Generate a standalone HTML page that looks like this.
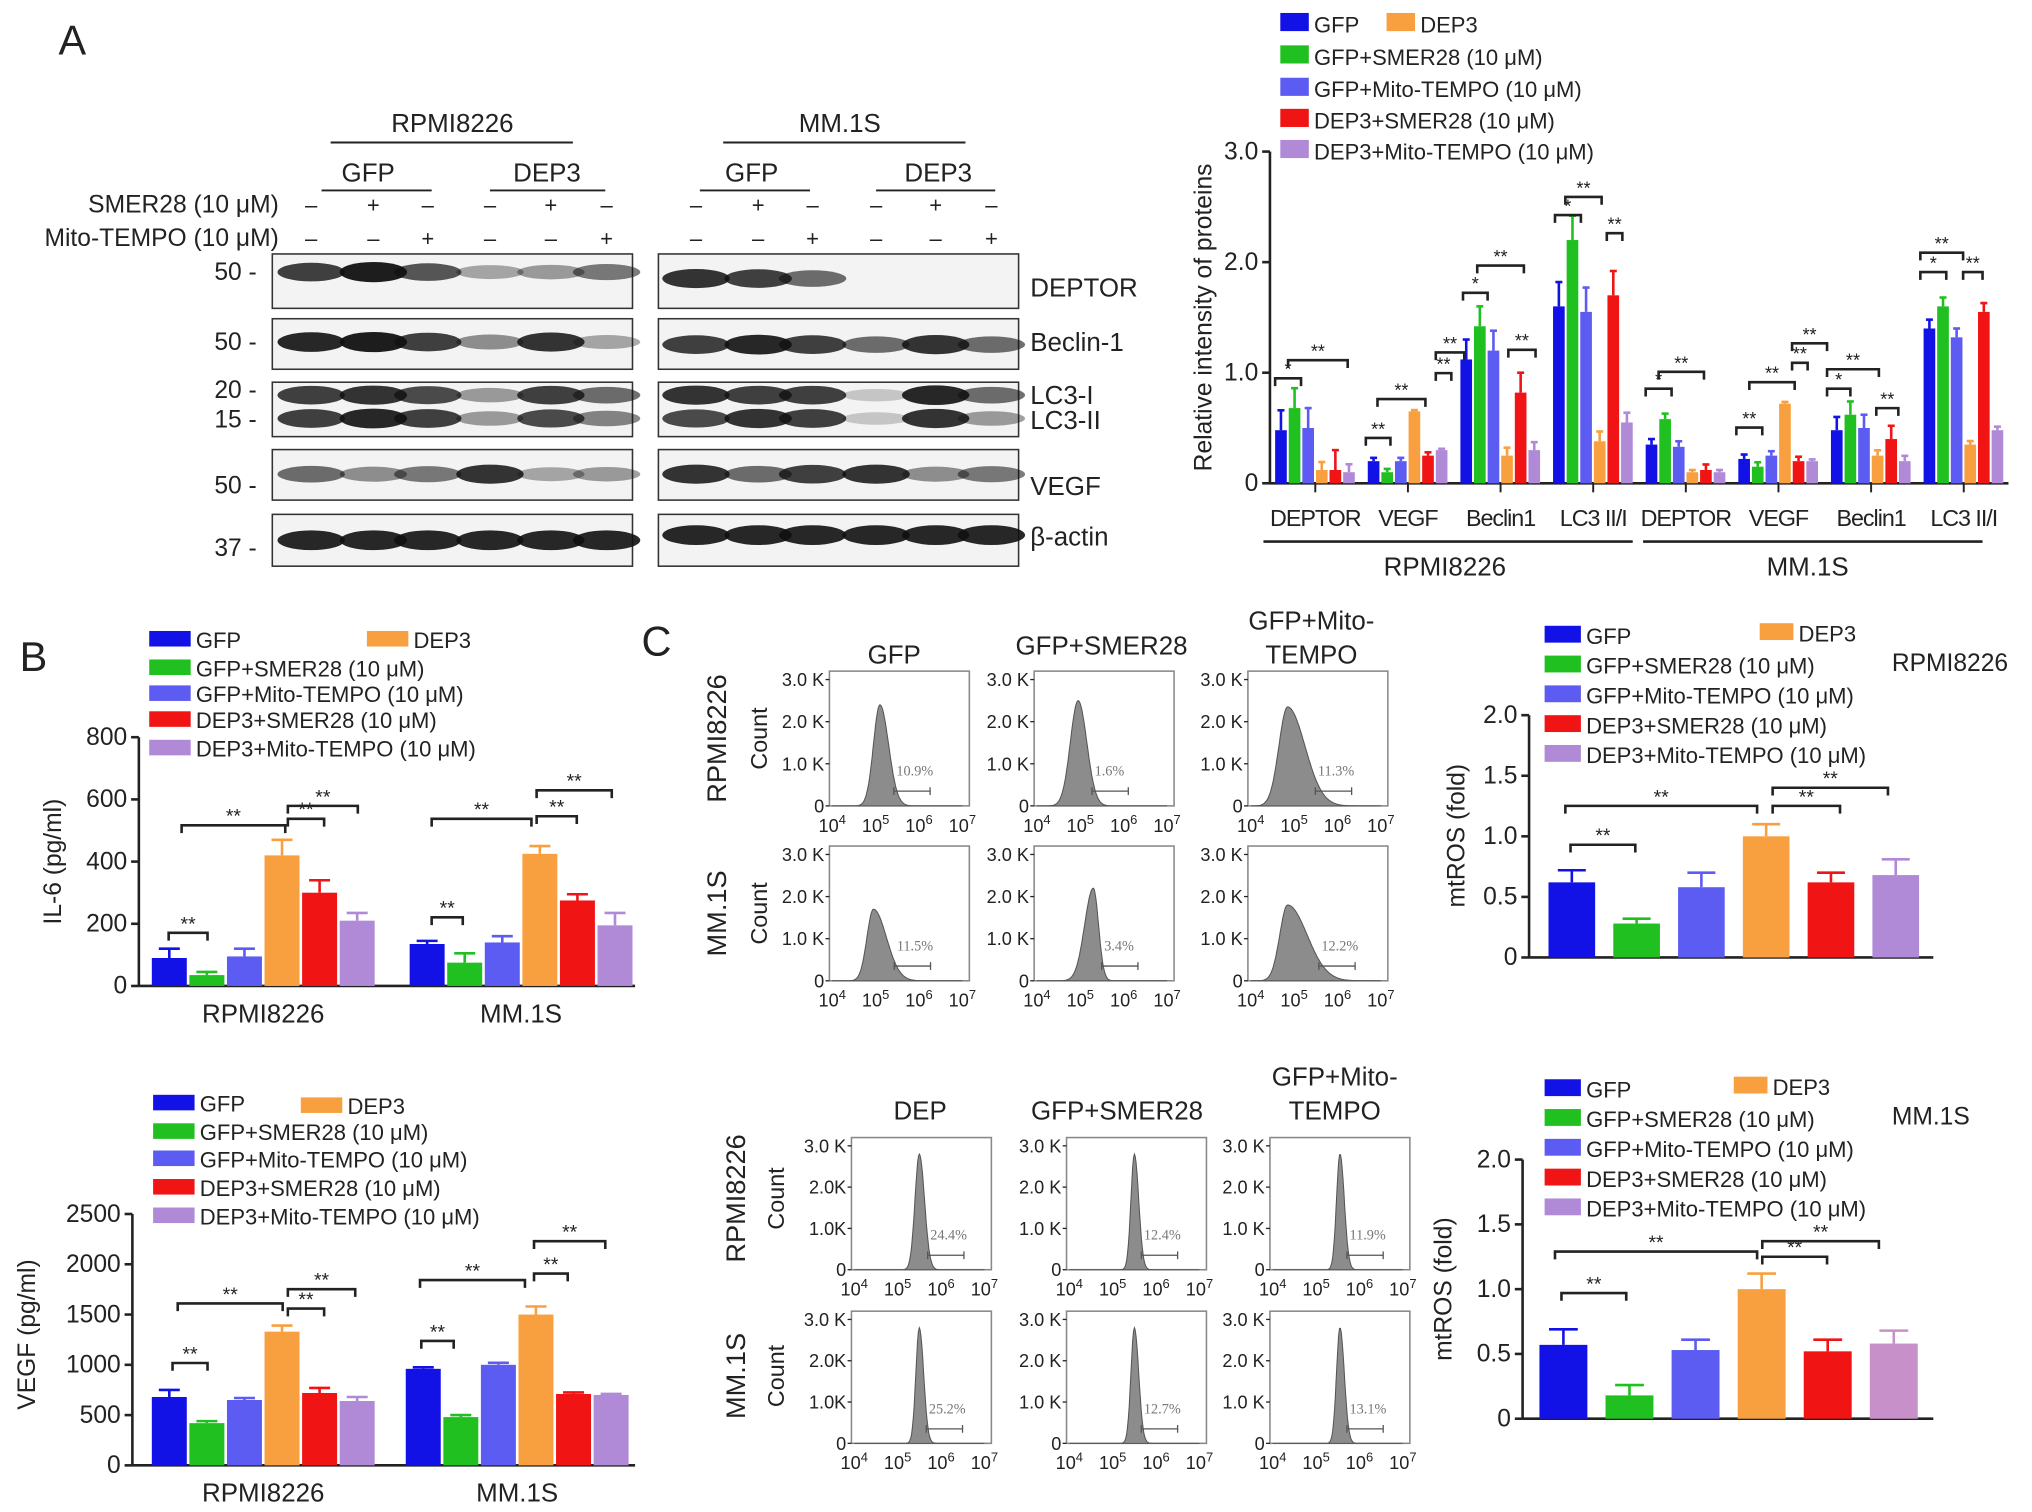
<!DOCTYPE html>
<html><head><meta charset="utf-8"><style>
html,body{margin:0;padding:0;background:#fff;}
svg{display:block;font-family:"Liberation Sans",sans-serif;}
</style></head><body>
<svg id="s" width="2032" height="1512" viewBox="0 0 1568 1167" xmlns="http://www.w3.org/2000/svg">
<rect width="1568" height="1167" fill="#fff"/>
</svg>
<script>
const COLORS=['#1212e6','#20c020','#5c5cf2','#f8a040','#f01414','#b08ad6'];
const LEG=['GFP','GFP+SMER28 (10 μM)','GFP+Mito-TEMPO (10 μM)','DEP3','DEP3+SMER28 (10 μM)','DEP3+Mito-TEMPO (10 μM)'];
// Chart A data
const catsA=['DEPTOR','VEGF','Beclin1','LC3 II/I','DEPTOR','VEGF','Beclin1','LC3 II/I'];
const gfpA=[0.48,0.2,1.12,1.6,0.35,0.22,0.48,1.4];
const smerA=[0.68,0.1,1.42,2.2,0.58,0.15,0.62,1.6];
const mitoA=[0.5,0.2,1.2,1.55,0.33,0.25,0.5,1.32];
const dep3A=[0.12,0.65,0.25,0.38,0.1,0.72,0.25,0.35];
const depSmerA=[0.12,0.25,0.82,1.7,0.12,0.2,0.4,1.55];
const depMitoA=[0.1,0.3,0.3,0.55,0.1,0.2,0.2,0.48];
const errA=[0.18,0.03,0.18,0.22,0.05,0.04,0.12,0.08];
const ticksA=[0,1.0,2.0,3.0];
// IL-6
const cellCats=['RPMI8226','MM.1S'];
const il6=[[90,35,95,420,300,210],[135,75,140,425,275,195]];
const il6Err=[[30,10,25,50,40,25],[10,30,20,25,20,40]];
const il6Ticks=[0,200,400,600,800];
// VEGF
const vegf=[[680,420,650,1330,720,640],[960,480,1000,1500,710,700]];
const vegfErr=[[70,20,20,60,50,40],[15,20,20,80,15,10]];
const vegfTicks=[0,500,1000,1500,2000,2500];
// mtROS
const rosR=[0.62,0.28,0.58,1.0,0.62,0.68];
const rosRErr=[0.1,0.04,0.12,0.1,0.08,0.13];
const rosM=[0.57,0.18,0.53,1.0,0.52,0.58];
const rosMErr=[0.12,0.08,0.08,0.12,0.09,0.1];
const rosTicks=[0,0.5,1.0,1.5,2.0];
// flow histograms: peak (log10), left width, right width, height(K), gate %
const flowPeak=[5.1,4.95,4.85,4.95,5.3,4.85, 5.5,5.5,5.55,5.5,5.5,5.55];
const flowLW=[0.15,0.18,0.2,0.15,0.2,0.18, 0.1,0.08,0.08,0.08,0.08,0.08];
const flowRW=[0.2,0.2,0.4,0.3,0.12,0.45, 0.12,0.1,0.1,0.1,0.1,0.1];
const flowH=[2.4,2.5,2.35,1.7,2.2,1.8, 2.8,2.8,2.8,2.8,2.8,2.8];
const flowPct=['10.9%','1.6%','11.3%','11.5%','3.4%','12.2%','24.4%','12.4%','11.9%','25.2%','12.7%','13.1%'];

const S=document.getElementById('s');
const NS='http://www.w3.org/2000/svg';
function mk(tag,at,name,p){const e=document.createElementNS(NS,tag);for(const k in at)e.setAttribute(k,at[k]);


(p||S).appendChild(e);return e;}
function tx(x,y,s,str,name,anchor,extra){const e=mk('text',Object.assign({x:x,y:y,'font-size':s,'text-anchor':anchor||'start',fill:'#222'},extra||{}),name);e.textContent=str;return e;}
function ln(x1,y1,x2,y2,name,w,c){return mk('line',{x1,y1,x2,y2,stroke:c||'#222','stroke-width':w||1.5},name);}

// ===== Panel A blot =====
tx(45,42,32,'A','panel-a-label');
tx(349,102,20,'RPMI8226','blot-rpmi-title','middle');ln(255,110,442,110,'blot-rpmi-line');
tx(648,102,20,'MM.1S','blot-mm-title','middle');ln(558,110,745,110,'blot-mm-line');
[[284,248,333,'GFP'],[422,378,467,'DEP3'],[580,540,625,'GFP'],[724,676,768,'DEP3']].forEach(g=>{tx(g[0],140,20,g[3],'blot-group-label','middle');ln(g[1],147,g[2],147,'blot-group-line');});
tx(215,164,19,'SMER28 (10 μM)','smer28-row-label','end');
tx(215,190,19,'Mito-TEMPO (10 μM)','mito-row-label','end');
const laneL=[240,288,330,378,425,468],laneR=[537,585,627,676,722,765];
const smerS=['–','+','–','–','+','–'],mitoS=['–','–','+','–','–','+'];
[laneL,laneR].forEach(L=>L.forEach((x,i)=>{tx(x,164,17,smerS[i],'smer28-sign','middle');tx(x,190,17,mitoS[i],'mito-sign','middle');}));
const rows=[[196,238,'DEPTOR'],[246,285,'Beclin-1'],[295,337,'LC3'],[347,386,'VEGF'],[397,437,'β-actin']];
rows.forEach(r=>{mk('rect',{x:210,y:r[0],width:278,height:r[1]-r[0],fill:'#f3f3f3',stroke:'#333','stroke-width':1.2},'blot-box-rpmi');
mk('rect',{x:508,y:r[0],width:278,height:r[1]-r[0],fill:'#f3f3f3',stroke:'#333','stroke-width':1.2},'blot-box-mm');});
const bandsL=[[210,[0.8,0.95,0.7,0.35,0.4,0.55]],[264,[0.9,0.95,0.8,0.45,0.85,0.35]],[305,[0.8,0.85,0.75,0.4,0.8,0.6]],[323,[0.8,0.9,0.8,0.4,0.75,0.5]],[366,[0.6,0.45,0.55,0.85,0.35,0.4]],[417,[0.9,0.9,0.9,0.9,0.9,0.9]]];
const bandsR=[[215,[0.85,0.8,0.6,0,0,0]],[266,[0.8,0.9,0.8,0.6,0.85,0.6]],[305,[0.85,0.8,0.8,0.2,0.9,0.6]],[323,[0.75,0.85,0.8,0.2,0.85,0.4]],[366,[0.85,0.6,0.8,0.85,0.45,0.55]],[413,[0.9,0.9,0.9,0.9,0.9,0.9]]];
[[laneL,bandsL],[laneR,bandsR]].forEach(([L,B])=>B.forEach(b=>b[1].forEach((v,i)=>{if(v>0)mk('ellipse',{cx:L[i],cy:b[0],rx:26,ry:4+4*v,fill:'#111','fill-opacity':v},'blot-band');})));
[['50 -',216],['50 -',270],['20 -',307],['15 -',330],['50 -',381],['37 -',429]].forEach(m=>tx(198,m[1],19,m[0],'mw-marker','end'));
[['DEPTOR',229],['Beclin-1',271],['LC3-I',312],['LC3-II',331],['VEGF',382],['β-actin',421]].forEach(m=>tx(795,m[1],20,m[0],'protein-label'));

// ===== Generic bar chart =====
function legend(items){items.forEach(it=>{mk('rect',{x:it[0],y:it[1],width:it[2],height:it[3],fill:COLORS[it[4]]},'legend-swatch');tx(it[0]+it[2]+4,it[1]+it[3]+1,it[5],LEG[it[4]],'legend-entry');});}
function yaxis(x,y0,y1,vals,max,fs,fmt,name){ln(x,y0,x,y1,name+'-y-axis',2);vals.forEach(v=>{const y=y0-(v/max)*(y0-y1);ln(x-6,y,x,y,name+'-y-tick',2);tx(x-9,y+6,fs,fmt(v),name+'-y-tick-label','end');});}
function bar(x,w,v,err,max,y0,y1,c,name){const sc=(y0-y1)/max;const h=v*sc;
mk('rect',{x:x,y:y0-h,width:w,height:h,fill:c},name);
if(err>0){const ey=y0-(v+err)*sc;mk('line',{x1:x+w/2,y1:y0-h,x2:x+w/2,y2:ey,stroke:c,'stroke-width':2},name+'-error');mk('line',{x1:x+w/2-w*0.3,y1:ey,x2:x+w/2+w*0.3,y2:ey,stroke:c,'stroke-width':2},name+'-error-cap');}}
function brk(x1,x2,y,lab,name,fs){mk('path',{d:`M${x1},${y+6}V${y}H${x2}V${y+6}`,fill:'none',stroke:'#222','stroke-width':2},name);tx((x1+x2)/2,y-2,fs||15,lab,name+'-stars','middle');}

// Chart A
const seriesA=[gfpA,smerA,mitoA,dep3A,depSmerA,depMitoA];
const A0=373,A1=117;
yaxis(980,A0,A1,ticksA,3,19,v=>v===0?'0':v.toFixed(1),'chart-a');
ln(980,A0,1550,A0,'chart-a-x-axis',2);
mk('text',{x:0,y:0,'font-size':19,'text-anchor':'middle',fill:'#222',transform:'translate(935,245) rotate(-90)'},'chart-a-y-title').textContent='Relative intensity of proteins';
catsA.forEach((c,g)=>{const cx=1015+g*71.5;seriesA.forEach((s,k)=>{const x=cx-31+k*10.5;bar(x,9,s[g],k<3||k==4?errA[g]:errA[g]*0.4,3,A0,A1,COLORS[k],'chart-a-bar');});
ln(cx,A0,cx,A0+7,'chart-a-x-tick',1.5);tx(cx,406,18,c,'chart-a-category','middle',{'letter-spacing':'-0.8'});});
ln(975,418,1260,418,'chart-a-rpmi-line',2);ln(1268,418,1530,418,'chart-a-mm-line',2);
tx(1115,444,20,'RPMI8226','chart-a-rpmi-label','middle');tx(1395,444,20,'MM.1S','chart-a-mm-label','middle');
legend([[988,10,22,14,0,17],[1070,10,22,14,3,17],[988,35,22,14,1,17],[988,60,22,14,2,17],[988,84,22,14,4,17],[988,108,22,14,5,17]]);
[[984,1004,292,'*'],[994,1040,278,'**'],[1054,1073,338,'**'],[1063,1100,308,'**'],[1108,1120,288,'**'],[1108,1130,272,'**'],[1129,1148,226,'*'],[1140,1176,205,'**'],[1164,1185,270,'**'],[1200,1220,166,'*'],[1208,1236,152,'**'],[1240,1252,180,'**'],
[1270,1290,300,'*'],[1280,1315,287,'**'],[1340,1360,330,'**'],[1350,1385,295,'**'],[1383,1395,280,'**'],[1383,1410,265,'**'],[1410,1428,300,'*'],[1410,1450,285,'**'],[1448,1465,315,'**'],[1482,1502,210,'*'],[1482,1515,195,'**'],[1515,1530,210,'**']].forEach(b=>brk(b[0],b[1],b[2],b[3],'chart-a-sig-bracket',14));

// Panel B IL-6
tx(15,518,32,'B','panel-b-label');
const B0=761,B1=569;
yaxis(107,B0,B1,il6Ticks,800,19,v=>String(v),'il6');
ln(107,B0,490,B0,'il6-x-axis',2);
mk('text',{x:0,y:0,'font-size':19,'text-anchor':'middle',fill:'#222',transform:'translate(47,665) rotate(-90)'},'il6-y-title').textContent='IL-6 (pg/ml)';
const bStart=[117,316];
cellCats.forEach((c,g)=>{il6[g].forEach((v,k)=>bar(bStart[g]+k*29,27,v,il6Err[g][k],800,B0,B1,COLORS[k],'il6-bar'));tx(bStart[g]+86,789,20,c,'il6-category','middle');});
legend([[115,487,32,12,0,17],[283,487,32,12,3,17],[115,509,32,12,1,17],[115,529,32,12,2,17],[115,549,32,12,4,17],[115,571,32,12,5,17]]);
[[130,160,720,'**'],[140,220,637,'**'],[222,250,632,'**'],[222,276,622,'**'],[333,357,708,'**'],[333,410,632,'**'],[414,445,630,'**'],[414,472,610,'**']].forEach(b=>brk(b[0],b[1],b[2],b[3],'il6-sig-bracket',15));

// VEGF
const V0=1131,V1=937;
yaxis(102,V0,V1,vegfTicks,2500,19,v=>String(v),'vegf');
ln(102,V0,490,V0,'vegf-x-axis',2);
mk('text',{x:0,y:0,'font-size':19,'text-anchor':'middle',fill:'#222',transform:'translate(27,1030) rotate(-90)'},'vegf-y-title').textContent='VEGF (pg/ml)';
const vStart=[117,313];
cellCats.forEach((c,g)=>{vegf[g].forEach((v,k)=>bar(vStart[g]+k*29,27,v,vegfErr[g][k],2500,V0,V1,COLORS[k],'vegf-bar'));tx(vStart[g]+86,1159,20,c,'vegf-category','middle');});
legend([[118,845,32,12,0,17],[232,847,32,12,3,17],[118,867,32,12,1,17],[118,888,32,12,2,17],[118,910,32,12,4,17],[118,932,32,12,5,17]]);
[[133,160,1052,'**'],[137,218,1006,'**'],[222,250,1010,'**'],[222,274,995,'**'],[325,350,1035,'**'],[324,405,988,'**'],[412,438,983,'**'],[412,467,958,'**']].forEach(b=>brk(b[0],b[1],b[2],b[3],'vegf-sig-bracket',15));

// mtROS charts
function rosChart(vals,errs,ax,y0,y1,start,slot,w,legTop,dx,label,lx,ly,name,tX,tY,purple){
 yaxis(ax,y0,y1,rosTicks,2,19,v=>v===0?'0':v.toFixed(1),name);
 ln(ax,y0,1492,y0,name+'-x-axis',2);
 mk('text',{x:0,y:0,'font-size':19,'text-anchor':'middle',fill:'#222',transform:`translate(${tX},${tY}) rotate(-90)`},name+'-y-title').textContent='mtROS (fold)';
 vals.forEach((v,k)=>bar(start+k*slot,w,v,errs[k],2,y0,y1,k==5?purple:COLORS[k],name+'-bar'));
 const r=[0,1,2,3,4].map(i=>legTop+i*23);
 legend([[1192,r[0],28,13,0,17],[dx,r[0]-2,26,13,3,17],[1192,r[1],28,13,1,17],[1192,r[2],28,13,2,17],[1192,r[3],28,13,4,17],[1192,r[4],28,13,5,17]]);
 tx(lx,ly,19,label,name+'-cell-label');
}
rosChart(rosR,rosRErr,1180,739,552,1195,50,36,483,1358,'RPMI8226',1460,518,'mtros-rpmi',1130,645,'#b08ad6');
[[1212,1262,652,'**'],[1208,1356,622,'**'],[1368,1420,622,'**'],[1368,1457,608,'**']].forEach(b=>brk(b[0],b[1],b[2],b[3],'mtros-rpmi-sig-bracket',15));
rosChart(rosM,rosMErr,1175,1095,895,1188,51,37,833,1338,'MM.1S',1460,868,'mtros-mm',1120,995,'#c890c8');
[[1205,1255,998,'**'],[1200,1356,966,'**'],[1360,1410,970,'**'],[1360,1450,958,'**']].forEach(b=>brk(b[0],b[1],b[2],b[3],'mtros-mm-sig-bracket',15));

// Panel C flow
tx(495,506,32,'C','panel-c-label');
function flow(i,bx,by,w,h,ylabs){
 mk('rect',{x:bx,y:by,width:w,height:h,fill:'#fff',stroke:'#888','stroke-width':1.2},'flow-plot-box');
 const X=d=>bx+w*(0.02+(d-4)*0.31), Y=k=>by+h-(k/3.2)*h;
 let d=`M${X(4)},${Y(0)}`;
 for(let t=4;t<=7.001;t+=0.02){const p=flowPeak[i];const s=t<p?flowLW[i]:flowRW[i];const k=flowH[i]*Math.exp(-((t-p)*(t-p))/(2*s*s));d+=`L${X(t).toFixed(1)},${Y(k).toFixed(1)}`;}
 d+='Z';mk('path',{d:d,fill:'#8c8c8c',stroke:'#555','stroke-width':0.8},'flow-histogram');
 const gx=X(flowPeak[i]+1.6*flowRW[i]),gy=Y(0.35);
 ln(gx,gy,gx+28,gy,'flow-gate',1,'#555');ln(gx,gy-3,gx,gy+3,'flow-gate',1,'#555');ln(gx+28,gy-3,gx+28,gy+3,'flow-gate',1,'#555');
 tx(gx+2,gy-12,11,flowPct[i],'flow-gate-percent','start',{fill:'#777','font-family':'Liberation Serif'});
 ylabs.forEach((l,j)=>{const y=Y(j);tx(bx-4,y+5,14,l,'flow-y-tick-label','end');ln(bx-3,y,bx,y,'flow-y-tick',1);});
 [4,5,6,7].forEach(dd=>{const t=tx(X(dd),by+h+20,14,'10','flow-x-tick-label','middle');const s=document.createElementNS(NS,'tspan');s.setAttribute('dy','-6');s.setAttribute('font-size','10');s.textContent=String(dd);t.appendChild(s);});
}
const topCols=[640,798,963],topRows=[518,653];
topRows.forEach((ry,r)=>topCols.forEach((cx,c)=>flow(r*3+c,cx,ry,108,104,['0','1.0 K','2.0 K','3.0 K'])));
const botCols=[657,823,980],botRows=[878,1012];
botRows.forEach((ry,r)=>botCols.forEach((cx,c)=>flow(6+r*3+c,cx,ry,108,102,c==0?['0','1.0K','2.0K','3.0 K']:['0','1.0 K','2.0 K','3.0 K'])));
tx(690,512,20,'GFP','flow-title','middle');tx(850,505,20,'GFP+SMER28','flow-title','middle');
tx(1012,486,20,'GFP+Mito-','flow-title','middle');tx(1012,512,20,'TEMPO','flow-title','middle');
tx(710,864,20,'DEP','flow-title','middle');tx(862,864,20,'GFP+SMER28','flow-title','middle');
tx(1030,838,20,'GFP+Mito-','flow-title','middle');tx(1030,864,20,'TEMPO','flow-title','middle');
function vlab(x,y,s,str,name){mk('text',{x:0,y:0,'font-size':s,'text-anchor':'middle',fill:'#222',transform:`translate(${x},${y}) rotate(-90)`},name).textContent=str;}
vlab(560,570,21,'RPMI8226','flow-row-label');vlab(592,570,18,'Count','flow-count-label');
vlab(560,705,21,'MM.1S','flow-row-label');vlab(592,705,18,'Count','flow-count-label');
vlab(575,925,21,'RPMI8226','flow-row-label');vlab(605,925,18,'Count','flow-count-label');
vlab(575,1062,21,'MM.1S','flow-row-label');vlab(605,1062,18,'Count','flow-count-label');
</script>
</body></html>
